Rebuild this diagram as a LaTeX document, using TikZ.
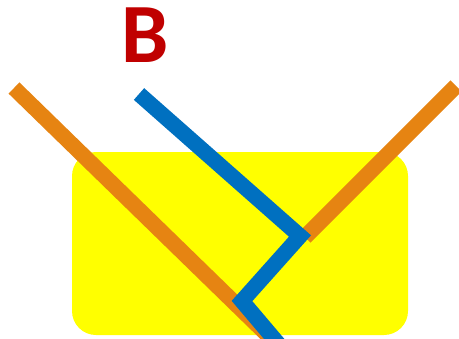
\documentclass[tikz,border=0pt]{standalone}
\usepackage{fontspec}
\setmainfont{Carlito}
\usetikzlibrary{positioning}
\definecolor{beamorange}{RGB}{230,132,18}
\definecolor{beamblue}{RGB}{0,112,192}
\definecolor{labelred}{RGB}{192,0,0}
\definecolor{surfyellow}{RGB}{255,255,0}

\begin{document}
\begin{tikzpicture}[x=0.025cm, y=-0.025cm,
  beam/.style={line width=0.39cm, line join=miter, line cap=butt}]
  \useasboundingbox (0,0) rectangle (459,338);
  \clip (0,0) rectangle (459,338);
  % surface
  \fill[surfyellow, rounded corners=0.6cm] (72,152) rectangle (408,335);
  % orange rays
  \coordinate (inL) at (14,88);
  \coordinate (outL) at (285,352);
  \coordinate (inR) at (456,86);
  \coordinate (endR) at (305,237);
  \draw[beam, beamorange] (inL) -- (outL);
  \draw[beam, beamorange] (inR) -- (endR);
  % blue ray
  \coordinate (bStart) at (139,94);
  \coordinate (bTurn1) at (300,236);
  \coordinate (bTurn2) at (242,301);
  \coordinate (bEnd) at (292,360);
  \draw[beam, beamblue] (bStart) -- (bTurn1) -- (bTurn2) -- (bEnd);
  % label
  \node[font=\fontsize{60}{60}\selectfont\bfseries, text=labelred, inner sep=0pt] (lblB) at (145,35) {B};
\end{tikzpicture}
\end{document}
